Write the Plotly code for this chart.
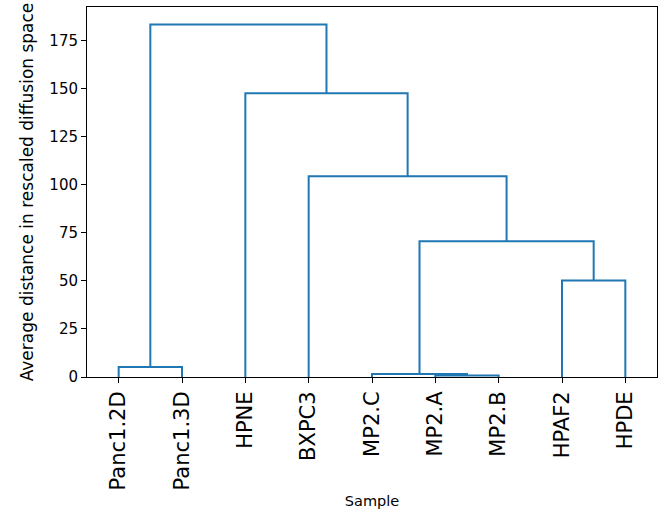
import plotly.graph_objects as go

# Leaves in dendrogram order
leaves = ["Panc1.2D", "Panc1.3D", "HPNE", "BXPC3", "MP2.C", "MP2.A", "MP2.B", "HPAF2", "HPDE"]
# Linkage (scipy style): leaf ids 0..8, new clusters 9, 10, ...
merge_left = [5, 4, 0, 7, 10, 3, 2, 11]
merge_right = [6, 9, 1, 8, 12, 13, 14, 15]
merge_height = [0.8, 1.5, 5.2, 50.2, 70.6, 104.4, 147.6, 183.3]

n = len(leaves)
xpos = {i: 5 + 10 * i for i in range(n)}
ypos = {i: 0.0 for i in range(n)}
xs, ys = [], []
for k, (a, b, h) in enumerate(zip(merge_left, merge_right, merge_height)):
    xs += [xpos[a], xpos[a], xpos[b], xpos[b], None]
    ys += [ypos[a], h, h, ypos[b], None]
    xpos[n + k] = (xpos[a] + xpos[b]) / 2
    ypos[n + k] = h

fig = go.Figure()
fig.add_trace(go.Scatter(x=xs, y=ys, mode="lines",
                         line=dict(color="#1f77b4", width=2),
                         hoverinfo="skip", showlegend=False))

fig.update_layout(
    width=660, height=514,
    margin=dict(l=87, r=3, t=7, b=137),
    paper_bgcolor="white", plot_bgcolor="white",
    font=dict(family="DejaVu Sans", size=14, color="black"),
    showlegend=False,
)
fig.update_xaxes(
    range=[0, 10 * n], tickmode="array",
    tickvals=[5 + 10 * i for i in range(n)], ticktext=leaves,
    tickangle=-90, tickfont=dict(size=21),
    showline=True, linecolor="black", linewidth=1, mirror=True,
    ticks="outside", ticklen=5, tickcolor="black",
    showgrid=False, zeroline=False,
    title=dict(text="Sample", font=dict(size=14.5), standoff=6),
)
fig.update_yaxes(
    range=[0, max(merge_height) * 1.05], tickmode="array",
    tickvals=[0, 25, 50, 75, 100, 125, 150, 175],
    tickfont=dict(size=15),
    showline=True, linecolor="black", linewidth=1, mirror=True,
    ticks="outside", ticklen=5, tickcolor="black",
    showgrid=False, zeroline=False,
    title=dict(text="Average distance in rescaled diffusion space", font=dict(size=17), standoff=11),
)

fig.write_html("out.html")
